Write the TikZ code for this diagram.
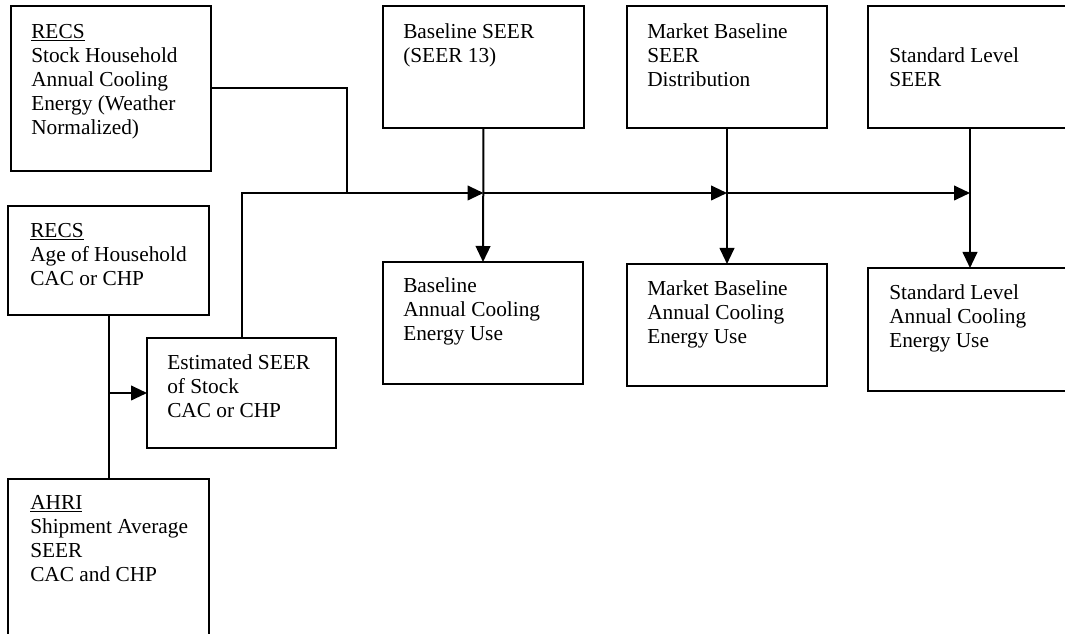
\documentclass[tikz,border=0pt]{standalone}
\usepackage{fontspec}
\setmainfont{Liberation Serif}
\usetikzlibrary{arrows.meta}
\begin{document}
\begin{tikzpicture}[x=0.75pt,y=-0.75pt,
  box/.style={draw,line width=1.2pt,inner sep=0pt,outer sep=0pt,anchor=north west},
  txt/.style={anchor=north west,inner sep=0pt,align=left,font=\fontsize{16pt}{18pt}\selectfont},
  conn/.style={line width=1.5pt},
  arr/.style={conn,-{Triangle[length=12pt,width=11pt]}}]
\useasboundingbox (0,0) rectangle (1065,634);
% boxes
\node[box,minimum width=200*0.75pt,minimum height=165*0.75pt] (stock) at (11,6) {};
\node[box,minimum width=201*0.75pt,minimum height=122*0.75pt] (bseer) at (383,6) {};
\node[box,minimum width=200*0.75pt,minimum height=122*0.75pt] (mseer) at (627,6) {};
\node[box,minimum width=204*0.75pt,minimum height=122*0.75pt] (sseer) at (868,6) {};
\node[box,minimum width=200*0.75pt,minimum height=122*0.75pt] (bann) at (383,262) {};
\node[box,minimum width=200*0.75pt,minimum height=122*0.75pt] (mann) at (627,264) {};
\node[box,minimum width=204*0.75pt,minimum height=123*0.75pt] (sann) at (868,268) {};
\node[box,minimum width=201*0.75pt,minimum height=109*0.75pt] (age) at (8,206) {};
\node[box,minimum width=189*0.75pt,minimum height=110*0.75pt] (estim) at (147,338) {};
\node[box,minimum width=201*0.75pt,minimum height=180*0.75pt] (ahri) at (8,479) {};
% texts
\node[txt] (tstock) at (31,21.2) {\strut\underline{RECS}\\Stock Household\\Annual Cooling\\Energy (Weather\\Normalized)};
\node[txt] (tbseer) at (403,21.2) {\strut Baseline SEER\\(SEER 13)};
\node[txt] (tmseer) at (647,21.2) {\strut Market Baseline\\SEER\\Distribution};
\node[txt] (tsseer) at (889,45.2) {\strut Standard Level\\SEER};
\node[txt] (tbann) at (403,275.2) {\strut Baseline\\Annual Cooling\\Energy Use};
\node[txt] (tmann) at (647,278.2) {\strut Market Baseline\\Annual Cooling\\Energy Use};
\node[txt] (tsann) at (889,282.2) {\strut Standard Level\\Annual Cooling\\Energy Use};
\node[txt] (tage) at (30,220.2) {\strut\underline{RECS}\\Age of Household\\CAC or CHP};
\node[txt] (testim) at (167,352.2) {\strut Estimated SEER\\of Stock\\CAC or CHP};
\node[txt] (tahri) at (30,492.2) {\strut\underline{AHRI}\\Shipment Average\\SEER\\CAC and CHP};
% junctions
\coordinate (j1) at (347,193);
\coordinate (h1) at (bseer.south |- j1);
\coordinate (h2) at (mseer.south |- j1);
\coordinate (h3) at (sseer.south |- j1);
\coordinate (ja) at (age.south |- estim.west);
% connectors
\draw[conn] (stock.east) -| (j1);
\draw[conn] (estim.north) |- (j1);
\draw[arr] (j1) -- (h1);
\draw[arr] (h1) -- (h2);
\draw[arr] (h2) -- (h3);
\draw[arr] (bseer.south) -- (bann.north);
\draw[arr] (mseer.south) -- (mann.north);
\draw[arr] (sseer.south) -- (sann.north);
\draw[conn] (age.south) -- (ahri.north);
\draw[arr] (ja) -- (estim.west);
\end{tikzpicture}
\end{document}
